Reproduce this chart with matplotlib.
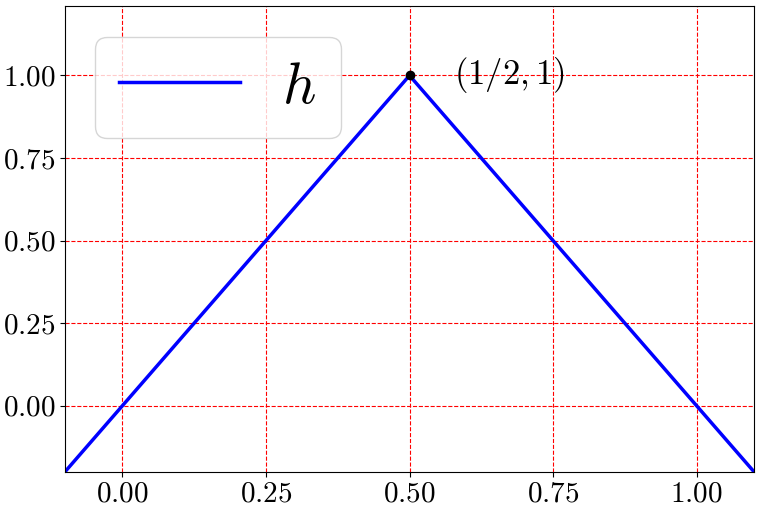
import matplotlib as mpl
import matplotlib.pyplot as plt

mpl.rcParams.update({
    "font.family": "serif",
    "font.serif": ["cmr10", "DejaVu Serif"],
    "mathtext.fontset": "cm",
    "axes.formatter.use_mathtext": True,
    "axes.unicode_minus": False,
})

# tent function h, sampled at its corners
x_vals = [-0.1, 0.5, 1.1]
h_vals = [-0.2, 1.0, -0.2]
peak_x, peak_y = 0.5, 1.0
xticks = [0.0, 0.25, 0.5, 0.75, 1.0]
yticks = [0.0, 0.25, 0.5, 0.75, 1.0]

fig = plt.figure(figsize=(7.64, 5.09), dpi=100)
ax = fig.add_axes([0.085, 0.073, 0.902, 0.915])

ax.plot(x_vals, h_vals, color="blue", linewidth=2.5, label=r"$h$")
ax.plot([peak_x], [peak_y], "o", color="black", markersize=6, zorder=5)
ax.text(0.578, 1.0, r"$(1/2,1)$", fontsize=25, va="center", ha="left")

ax.set_xlim(-0.1, 1.1)
ax.set_ylim(-0.2, 1.21)
ax.set_xticks(xticks)
ax.set_yticks(yticks)
ax.set_xticklabels([rf"$\mathrm{{{t:.2f}}}$" for t in xticks])
ax.set_yticklabels([rf"$\mathrm{{{t:.2f}}}$" for t in yticks])
ax.tick_params(labelsize=21)

ax.grid(True, color="red", linestyle="--", linewidth=0.8)

ax.legend(loc="upper left", fontsize=42, handlelength=2.07,
          handletextpad=0.72, borderpad=0.42, borderaxespad=0,
          bbox_to_anchor=(0.0435, 0.933))

fig.savefig("out.png", dpi=100)
